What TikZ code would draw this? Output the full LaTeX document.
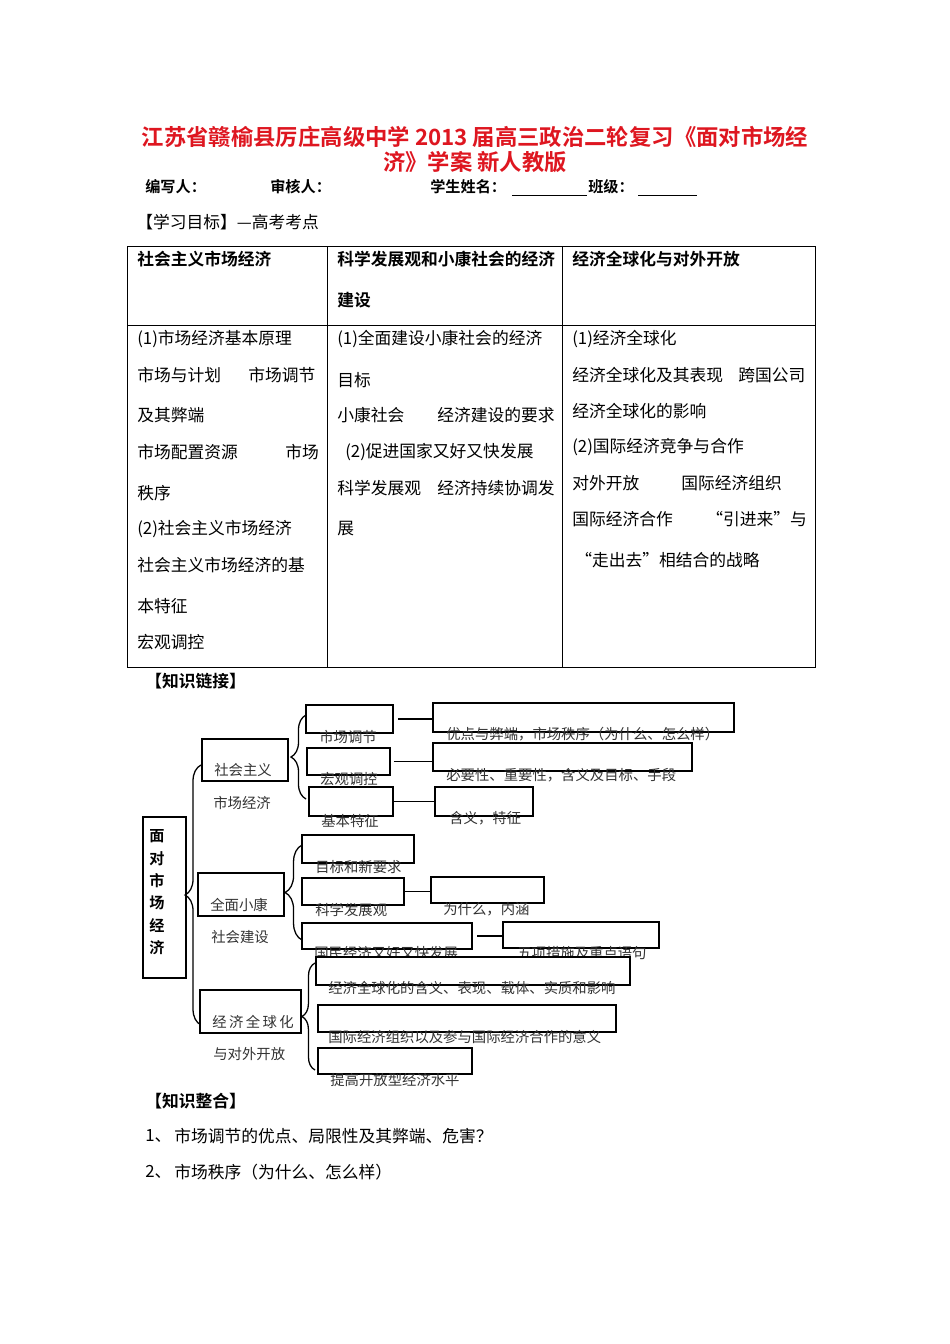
\documentclass[tikz,border=0pt]{standalone}
\usepackage{fontspec}
\setmainfont{Noto Sans CJK SC}[BoldFont={Noto Sans CJK SC Bold}]
\usepackage{xcolor}
\usepackage{tikz}
\usetikzlibrary{fit,decorations.pathreplacing}
\definecolor{ttlred}{RGB}{222,22,32}
\tikzset{
  lbl/.style={anchor=west,inner sep=0pt,font=\fontsize{10.5}{12}\selectfont},
  hdr/.style={lbl,font=\fontsize{10.5}{12}\selectfont\bfseries},
  info/.style={lbl,font=\fontsize{9.5}{11}\selectfont\bfseries},
  mtxt/.style={anchor=west,inner sep=0pt,text=black!80,font=\fontsize{9}{11}\selectfont},
  mbox/.style={draw,line width=0.8pt,fill=white,inner sep=0pt},
  brc/.style={line width=0.8pt,decorate,decoration={brace,amplitude=#1}},
  lnk/.style={line width=0.8pt},
  tbl/.style={line width=0.6pt}
}
\begin{document}
\begin{tikzpicture}[x=0.6266pt,y=-0.6266pt]
\useasboundingbox[fill=white](0,0) rectangle (950,1344);
\node[text=ttlred,font=\fontsize{14}{16}\selectfont\bfseries] (ttla) at (475,137) {江苏省赣榆县厉庄高级中学 2013 届高三政治二轮复习《面对市场经};
\node[text=ttlred,font=\fontsize{14}{16}\selectfont\bfseries] (ttlb) at (475,162) {济》学案 新人教版};
\node[info] (wr) at (145,187) {编写人：};
\node[info] (rv) at (270,187) {审核人：};
\node[info] (nm) at (430,187) {学生姓名：};
\node[info] (cl) at (588,187) {班级：};
\draw[tbl] (512,195) -- (587,195) (638,195) -- (697,195);
\node[lbl] (goal) at (136,222) {【学习目标】—高考考点};
% table
\draw[tbl] (127,246) rectangle (815,667);
\draw[tbl] (127,325) -- (815,325) (327,246) -- (327,667) (562,246) -- (562,667);
\foreach \x/\y/\t [count=\i] in {137/259/社会主义市场经济,337/259/科学发展观和小康社会的经济,337/300/建设,572/259/经济全球化与对外开放}
  \node[hdr] (h\i) at (\x,\y) {\t};
\foreach \x/\y/\t [count=\i] in {137/339/{(1)市场经济基本原理},137/375/市场与计划,248/375/市场调节,137/415/及其弊端,
  137/452/市场配置资源,285/452/市场,137/493/秩序,137/529/{(2)社会主义市场经济},137/565/社会主义市场经济的基,
  137/606/本特征,137/642/宏观调控}
  \node[lbl] (ca\i) at (\x,\y) {\t};
\foreach \x/\y/\t [count=\i] in {337/339/{(1)全面建设小康社会的经济},337/380/目标,337/415/小康社会,437/415/经济建设的要求,
  345/452/{(2)促进国家又好又快发展},337/488/科学发展观,437/488/经济持续协调发,337/529/展}
  \node[lbl] (cb\i) at (\x,\y) {\t};
\foreach \x/\y/\t [count=\i] in {572/339/{(1)经济全球化},572/375/经济全球化及其表现,738/375/跨国公司,572/411/经济全球化的影响,
  572/447/{(2)国际经济竞争与合作},572/483/对外开放,681/483/国际经济组织,572/519/国际经济合作,706/519/“引进来”与,
  575/560/“走出去”相结合的战略}
  \node[lbl] (cc\i) at (\x,\y) {\t};
% mind map
\node[hdr] (link) at (145,681) {【知识链接】};
\node[mbox,fit={(143,817)(186,978)}] (root) {};
\foreach \t [count=\i] in {面,对,市,场,经,济}
  \node[font=\fontsize{9.5}{11}\selectfont\bfseries,inner sep=0pt] (r\i) at (157,{836+22.4*(\i-1)}) {\t};
\draw[brc=10pt] (201,1025) -- (201,765);
\node[mbox,fit={(202,739)(288,781)}] (s1) {};
\node[mbox,fit={(198,873)(284,916)}] (s2) {};
\node[mbox,fit={(200,990)(301,1033)}] (s3) {};
\node[mtxt] (s1a) at (214,770) {社会主义};
\node[mtxt] (s1b) at (213,803) {市场经济};
\node[mtxt] (s2a) at (210,905) {全面小康};
\node[mtxt] (s2b) at (211,937) {社会建设};
\node[mtxt] (s3a) at (212,1022) {经\,济\,全\,球\,化};
\node[mtxt] (s3b) at (213,1054) {与对外开放};
\draw[brc=9.4pt] (306,799) -- (306,715);
\node[mbox,fit={(306,705)(393,733)}] (a1) {};
\node[mbox,fit={(307,748)(390,775)}] (a2) {};
\node[mbox,fit={(309,787)(393,816)}] (a3) {};
\node[mbox,fit={(433,703)(734,732)}] (b1) {};
\node[mbox,fit={(433,743)(692,771)}] (b2) {};
\node[mbox,fit={(435,787)(533,816)}] (b3) {};
\draw[lnk] ([xshift=3pt]a1.east) -- (a1.east -| b1.west);
\draw[lnk] ([xshift=2pt]a2.east) -- (a2.east -| b2.west);
\draw[lnk] (a3.east) -- (a3.east -| b3.west);
\node[mtxt] (a1t) at (319,737) {市场调节};
\node[mtxt] (a2t) at (320,779) {宏观调控};
\node[mtxt] (a3t) at (321,821) {基本特征};
\node[mtxt] (b1t) at (446,734) {优点与弊端，市场秩序（为什么、怎么样）};
\node[mtxt] (b2t) at (446,775) {必要性、重要性，含义及目标、手段};
\node[mtxt] (b3t) at (449,818) {含义，特征};
\draw[brc=10.6pt] (302,940) -- (302,845);
\node[mbox,fit={(302,835)(414,863)}] (c1) {};
\node[mbox,fit={(302,878)(404,905)}] (c2) {};
\node[mbox,fit={(302,923)(472,949)}] (c3) {};
\node[mbox,fit={(431,877)(544,903)}] (d2) {};
\node[mbox,fit={(503,922)(659,948)}] (d3) {};
\draw[lnk] (c2.east) -- (c2.east -| d2.west);
\draw[lnk] ([xshift=3pt]c3.east) -- (c3.east -| d3.west);
\node[mtxt] (c1t) at (315,867) {目标和新要求};
\node[mtxt] (c2t) at (315,910) {科学发展观};
\node[mtxt] (d2t) at (443,909) {为什么，内涵};
\node[mtxt] (c3t) at (314,953) {国民经济又好又快发展};
\node[mtxt] (d3t) at (517,953) {五项措施及重点语句};
\draw[brc=8.2pt] (315,1070) -- (315,963);
\node[mbox,fit={(316,957)(630,985)}] (e1) {};
\node[mbox,fit={(318,1005)(616,1032)}] (e2) {};
\node[mbox,fit={(318,1048)(472,1074)}] (e3) {};
\node[mtxt] (e1t) at (328,988) {经济全球化的含义、表现、载体、实质和影响};
\node[mtxt] (e2t) at (328,1037) {国际经济组织以及参与国际经济合作的意义};
\node[mtxt] (e3t) at (330,1080) {提高开放型经济水平};
% bottom
\node[hdr] (sum) at (145,1101) {【知识整合】};
\node[lbl] (q1n) at (145,1136) {1、};
\node[lbl] (q1) at (174,1136) {市场调节的优点、局限性及其弊端、危害？};
\node[lbl] (q2n) at (145,1172) {2、};
\node[lbl] (q2) at (174,1172) {市场秩序（为什么、怎么样）};
\end{tikzpicture}
\end{document}
